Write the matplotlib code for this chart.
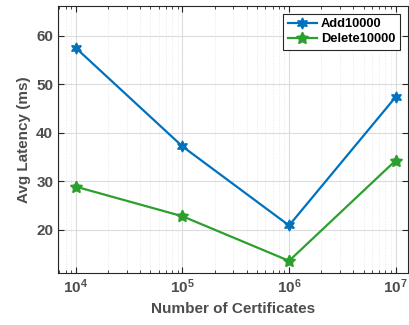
import matplotlib.pyplot as plt
from matplotlib.ticker import LogLocator, NullFormatter

plt.rcParams['font.family'] = ['Liberation Sans', 'DejaVu Sans']
plt.rcParams['font.weight'] = 'bold'

certs = [1e4, 1e5, 1e6, 1e7]
add_lat = [57.5, 37.2, 20.9, 47.4]
del_lat = [28.9, 22.8, 13.6, 34.3]
series_names = ['Add10000', 'Delete10000']

blue = '#0072BD'
green = '#2CA02C'
txt = '#4D4D4D'

fig = plt.figure(figsize=(4.09, 3.25), dpi=100)
ax = fig.add_axes([0.142, 0.16, 0.855, 0.822])

ax.plot(certs, add_lat, color=blue, lw=1.6, marker=(6, 1, 0), ms=8,
        label=series_names[0])
ax.plot(certs, del_lat, color=green, lw=1.6, marker=(5, 1, 0), ms=9,
        label=series_names[1])

ax.set_xscale('log')
ax.set_xlim(6.8e3, 1.3e7)
ax.set_ylim(11.1, 66.2)
ax.set_yticks([20, 30, 40, 50, 60])
ax.xaxis.set_major_locator(LogLocator(base=10, numticks=10))
ax.xaxis.set_minor_locator(LogLocator(base=10, subs=range(2, 10), numticks=20))
ax.xaxis.set_minor_formatter(NullFormatter())

ax.grid(True, which='major', color='#DCDCDC', lw=0.8)
ax.grid(True, which='minor', axis='x', color='#E4E4E4', lw=0.6, ls=':')
ax.set_axisbelow(True)

ax.tick_params(which='both', direction='in', top=True, right=True,
               colors='#262626', labelcolor=txt, labelsize=11)
ax.tick_params(which='major', length=4)
ax.tick_params(which='minor', length=2)
for s in ax.spines.values():
    s.set_color('#262626')
    s.set_linewidth(0.8)

ax.set_xlabel('Number of Certificates', fontsize=11, color=txt, fontweight='bold')
ax.set_ylabel('Avg Latency (ms)', fontsize=11, color=txt, fontweight='bold')

leg = ax.legend(loc='upper right', fontsize=9.3, fancybox=False, framealpha=1,
                edgecolor='#262626', borderaxespad=0.6, handlelength=2.3,
                borderpad=0.35, labelspacing=0.25, handletextpad=0.3)
leg.get_frame().set_linewidth(0.8)
for t in leg.get_texts():
    t.set_color('black')

fig.savefig('out.png', dpi=100)
